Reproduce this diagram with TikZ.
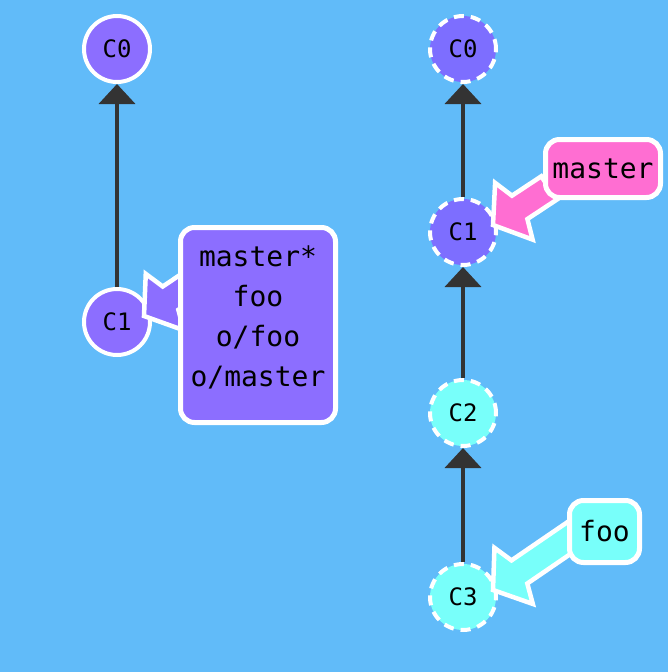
\documentclass[tikz,border=0pt]{standalone}
\usepackage{fontspec}
\newfontfamily\monof{DejaVu Sans Mono}
\usetikzlibrary{calc,arrows.meta}
\definecolor{bgblue}{RGB}{97,187,249}
\definecolor{purpA}{RGB}{140,110,255}
\definecolor{purpB}{RGB}{125,110,255}
\definecolor{cyanC}{RGB}{120,255,250}
\definecolor{pinkM}{RGB}{255,110,210}
\definecolor{edgeC}{RGB}{51,51,51}
\pgfdeclarelayer{bgl}
\pgfdeclarelayer{commitl}
\pgfdeclarelayer{arrowl}
\pgfsetlayers{bgl,commitl,arrowl,main}
\newcommand\refarrow[3]{%
  \fill[#3, draw=white, line width=4.5pt, line join=miter]
    let \p1=($(#2)-(#1)$), \n1={atan2(\y1,\x1)} in
    ($(#2)+(\n1+90:14pt)$) --
    ($(#1)+(\n1:32pt)+(\n1+90:14pt)$) --
    ($(#1)+(\n1:25pt)+(\n1+90:34pt)$) --
    (#1) --
    ($(#1)+(\n1:25pt)+(\n1-90:34pt)$) --
    ($(#1)+(\n1:32pt)+(\n1-90:14pt)$) --
    ($(#2)+(\n1-90:14pt)$) -- cycle;}
\begin{document}
\begin{tikzpicture}[x=1pt,y=-1pt,
  commit/.style={circle, minimum size=66pt, inner sep=0pt, line width=4pt, draw=white,
    font=\monof\fontsize{24}{24}\selectfont},
  ghost/.style={commit, dash pattern=on 10pt off 7pt},
  refbox/.style={rectangle, rounded corners=14pt, draw=white, line width=5pt,
    font=\monof\fontsize{28}{40}\selectfont, align=center, inner sep=0pt, outer sep=0pt},
  parent/.style={draw=edgeC, line width=4pt, -{Triangle[width=36pt,length=20pt]}},
]
\begin{pgfonlayer}{bgl}
\fill[bgblue] (0,0) rectangle (668,672);
\end{pgfonlayer}
\useasboundingbox (0,0) rectangle (668,672);

\begin{pgfonlayer}{commitl}
\node[commit, fill=purpA] (l0) at (117,49) {C0};
\node[commit, fill=purpA] (l1) at (117,322) {C1};
\node[ghost, fill=purpB] (r0) at (463,49) {C0};
\node[ghost, fill=purpB] (r1) at (463,232) {C1};
\node[ghost, fill=cyanC] (r2) at (463,413) {C2};
\node[ghost, fill=cyanC] (r3) at (463,597) {C3};
\draw[parent] (l1) -- (l0);
\draw[parent] (r1) -- (r0);
\draw[parent] (r2) -- (r1);
\draw[parent] (r3) -- (r2);
\end{pgfonlayer}

\node[refbox, fill=purpA, minimum width=155pt, minimum height=195pt] (llab) at (258,325)
  {master*\\foo\\o/foo\\o/master\rule[-18pt]{0pt}{0pt}};
\node[refbox, fill=pinkM, minimum width=115pt, minimum height=58pt] (mlab) at (603,168.5) {master};
\node[refbox, fill=cyanC, minimum width=70pt, minimum height=62pt] (flab) at (604.5,531.5) {foo};

\coordinate (ltip) at ($(l1)+(27,-6)$);
\coordinate (ltail) at ($(llab)+(-59,-46)$);
\coordinate (mtip) at ($(r1)+(30,-7)$);
\coordinate (mtail) at ($(mlab)+(-54,19.5)$);
\coordinate (ftip) at ($(r3)+(30,-7)$);
\coordinate (ftail) at ($(flab)+(-24.5,-1)$);

\begin{pgfonlayer}{arrowl}
\refarrow{ltip}{ltail}{purpA}
\refarrow{mtip}{mtail}{pinkM}
\refarrow{ftip}{ftail}{cyanC}
\end{pgfonlayer}
\end{tikzpicture}
\end{document}
